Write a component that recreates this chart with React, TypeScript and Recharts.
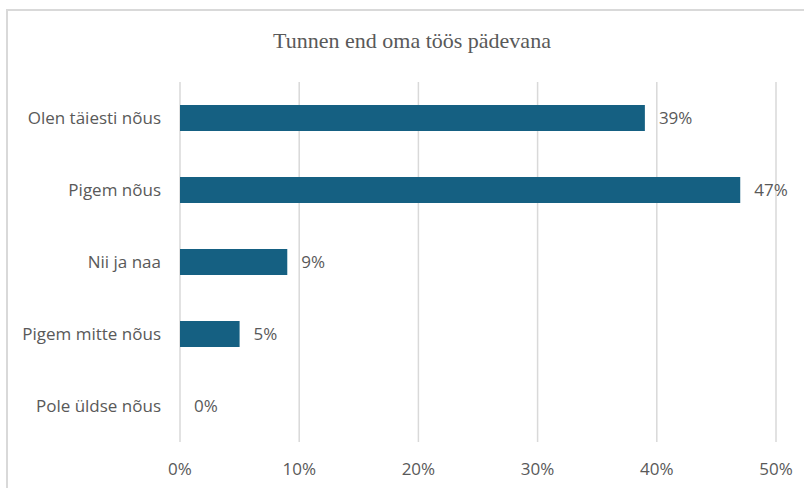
import { Bar, BarChart, CartesianGrid, LabelList, ReferenceDot, XAxis, YAxis } from "recharts";

const categories = [
  "Olen täiesti nõus",
  "Pigem nõus",
  "Nii ja naa",
  "Pigem mitte nõus",
  "Pole üldse nõus",
];
const shares = [39, 47, 9, 5, 0];
const xTicks = [0, 10, 20, 30, 40, 50];
const title = "Tunnen end oma töös pädevana";

const data = categories.map((name, i) => ({ name, value: shares[i] }));

const textColor = "#595959";
const font = "'Open Sans', sans-serif";
const pct = (v: number) => `${v}%`;

export default function App() {
  return (
    <div style={{ position: "fixed", left: 0, top: 0, width: 804, height: 488, background: "#fff", overflow: "hidden" }}>
      <div
        style={{
          position: "absolute",
          left: 0,
          width: 824,
          top: 28,
          textAlign: "center",
          fontFamily: "'Liberation Serif', 'Times New Roman', serif",
          fontSize: 22,
          color: textColor,
        }}
      >
        {title}
      </div>
      <div style={{ position: "absolute", left: 0, top: 0 }}>
        <BarChart
          width={804}
          height={488}
          data={data}
          layout="vertical"
          margin={{ top: 82, right: 28, bottom: 0, left: 0 }}
        >
          <CartesianGrid horizontal={false} stroke="#d9d9d9" strokeWidth={1.5} />
          <XAxis
            type="number"
            domain={[0, 50]}
            ticks={xTicks}
            tickFormatter={pct}
            axisLine={false}
            tickLine={false}
            tickSize={0}
            tickMargin={21}
            height={46}
            tick={{ fill: textColor, fontSize: 17, fontFamily: font }}
          />
          <YAxis
            type="category"
            dataKey="name"
            width={180}
            axisLine={false}
            tickLine={false}
            tickSize={0}
            tickMargin={19}
            tick={{ fill: textColor, fontSize: 17, fontFamily: font }}
          />
          <Bar dataKey="value" fill="#156082" barSize={26} isAnimationActive={false}>
            <LabelList
              dataKey="value"
              position="right"
              offset={14}
              formatter={pct}
              fill={textColor}
              fontSize={17}
              fontFamily={font}
            />
          </Bar>
          {data
            .filter((d) => d.value === 0)
            .map((d) => (
              <ReferenceDot
                key={d.name}
                x={d.value}
                y={d.name}
                r={0}
                fill="none"
                stroke="none"
                ifOverflow="visible"
                label={{
                  value: pct(d.value),
                  position: "right",
                  offset: 14,
                  fill: textColor,
                  fontSize: 17,
                  fontFamily: font,
                }}
              />
            ))}
        </BarChart>
      </div>
      {/* frame edges of the chart area */}
      <div style={{ position: "absolute", left: 6, top: 9, width: 798, height: 2, background: "#d9d9d9" }} />
      <div style={{ position: "absolute", left: 6, top: 9, width: 2, height: 479, background: "#d9d9d9" }} />
    </div>
  );
}
